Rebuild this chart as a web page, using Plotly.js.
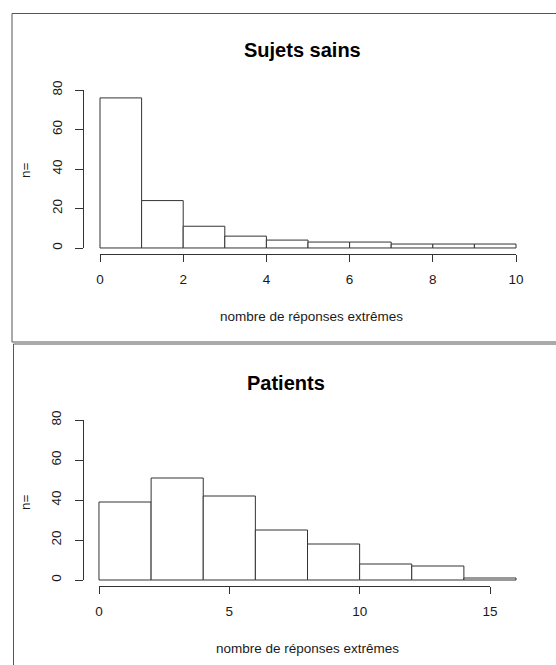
<!DOCTYPE html>
<html><head><meta charset="utf-8">
<script src="https://cdn.plot.ly/plotly-3.0.1.min.js"></script>
<style>html,body{margin:0;padding:0;background:#fff}#chart{width:556px;height:665px}</style>
</head><body><div id="chart"></div>
<script>
const W = 556, H = 665;
const panelTitles = ["Sujets sains", "Patients"];
const xTitle = "nombre de réponses extrêmes";
const yTitle = "n=";
const sainsCounts = [76, 24, 11, 6, 4, 3, 3, 2, 2, 2];
const sainsBinStart = 0, sainsBinWidth = 1;
const sainsXTicks = [0, 2, 4, 6, 8, 10];
const patientsCounts = [39, 51, 42, 25, 18, 8, 7, 1];
const patientsBinStart = 0, patientsBinWidth = 2;
const patientsXTicks = [0, 5, 10, 15];
const yTicks = [0, 20, 40, 60, 80];

const px = v => v / W, py = v => 1 - v / H;
const FONT = '"Liberation Sans", Arial, sans-serif';
const INK = '#1a1a1a', LINE = '#333';

function centers(counts, start, w) { return counts.map((_, i) => start + i * w + w / 2); }

const barStyle = { color: '#ffffff', line: { color: LINE, width: 1 } };
const traces = [
  { type: 'bar', x: centers(sainsCounts, sainsBinStart, sainsBinWidth), y: sainsCounts,
    width: sainsBinWidth, marker: barStyle, xaxis: 'x', yaxis: 'y', hoverinfo: 'x+y', showlegend: false },
  { type: 'bar', x: centers(patientsCounts, patientsBinStart, patientsBinWidth), y: patientsCounts,
    width: patientsBinWidth, marker: barStyle, xaxis: 'x2', yaxis: 'y2', hoverinfo: 'x+y', showlegend: false },
  { type: 'scatter', x: [], y: [], xaxis: 'x3', yaxis: 'y3', showlegend: false, hoverinfo: 'skip' },
  { type: 'scatter', x: [], y: [], xaxis: 'x4', yaxis: 'y4', showlegend: false, hoverinfo: 'skip' }
];

const tickFont = { family: FONT, size: 13.5, color: INK };
function decoX(dom, rng, pos, vals) {
  return { domain: dom, range: rng, anchor: 'free', position: pos, showline: true, linecolor: LINE, linewidth: 1,
    ticks: 'outside', ticklen: 7, tickcolor: LINE, tickwidth: 1, tickvals: vals, showgrid: false, zeroline: false,
    tickfont: tickFont, ticklabelstandoff: 5, fixedrange: true };
}
function decoY(dom, rng, pos) {
  return { domain: dom, range: rng, anchor: 'free', position: pos, side: 'left', showline: true, linecolor: LINE, linewidth: 1,
    ticks: 'outside', ticklen: 8, tickcolor: LINE, tickwidth: 1, tickvals: yTicks, tickangle: -90, showgrid: false, zeroline: false,
    tickfont: tickFont, ticklabelstandoff: 8, fixedrange: true };
}
const hidden = { visible: false, showgrid: false, zeroline: false, fixedrange: true };

const sainsXmax = sainsBinStart + sainsCounts.length * sainsBinWidth;
const patXmax = patientsBinStart + patientsCounts.length * patientsBinWidth;

const layout = {
  width: W, height: H, margin: { l: 0, r: 0, t: 0, b: 0 }, paper_bgcolor: '#fff', plot_bgcolor: 'rgba(0,0,0,0)',
  bargap: 0, showlegend: false,
  xaxis: Object.assign({}, hidden, { domain: [px(83.36), px(532.64)], range: [-0.04 * sainsXmax, 1.04 * sainsXmax], anchor: 'y' }),
  yaxis: Object.assign({}, hidden, { domain: [py(254.3), py(83.7)], range: [-3.2, 83.2], anchor: 'x' }),
  xaxis2: Object.assign({}, hidden, { domain: [px(82.3), px(532.7)], range: [-0.04 * patXmax, 1.04 * patXmax], anchor: 'y2' }),
  yaxis2: Object.assign({}, hidden, { domain: [py(586.4), py(413.6)], range: [-3.2, 83.2], anchor: 'x2' }),
  xaxis3: decoX([px(100), px(516)], [0, 10], py(254.3), sainsXTicks),
  yaxis3: decoY([py(248), py(90)], [0, 80], px(83.2)),
  xaxis4: decoX([px(99), px(490)], [0, 15], py(586.4), patientsXTicks),
  yaxis4: decoY([py(580), py(420)], [0, 80], px(82.5)),
  shapes: [
    { type: 'rect', xref: 'paper', yref: 'paper', x0: px(12), x1: px(600), y0: py(342), y1: py(13.5), line: { color: '#555', width: 1 } },
    { type: 'rect', xref: 'paper', yref: 'paper', x0: px(13.5), x1: px(600), y0: py(700), y1: py(344), line: { color: '#555', width: 1 } }
  ],
  annotations: [
    { text: '<b>' + panelTitles[0] + '</b>', x: px(302), y: py(50), font: { family: FONT, size: 20, color: '#000' } },
    { text: '<b>' + panelTitles[1] + '</b>', x: px(286), y: py(383), font: { family: FONT, size: 20, color: '#000' } },
    { text: xTitle, x: px(311), y: py(316), font: { family: FONT, size: 13.5, color: INK } },
    { text: xTitle, x: px(307.5), y: py(648), font: { family: FONT, size: 13.5, color: INK } },
    { text: yTitle, x: px(25), y: py(170), textangle: -90, font: { family: FONT, size: 13.5, color: INK } },
    { text: yTitle, x: px(25), y: py(502), textangle: -90, font: { family: FONT, size: 13.5, color: INK } }
  ].map(a => Object.assign({ xref: 'paper', yref: 'paper', xanchor: 'center', yanchor: 'middle', showarrow: false }, a))
};

Plotly.newPlot('chart', traces, layout, { displayModeBar: false, staticPlot: true });
</script></body></html>
